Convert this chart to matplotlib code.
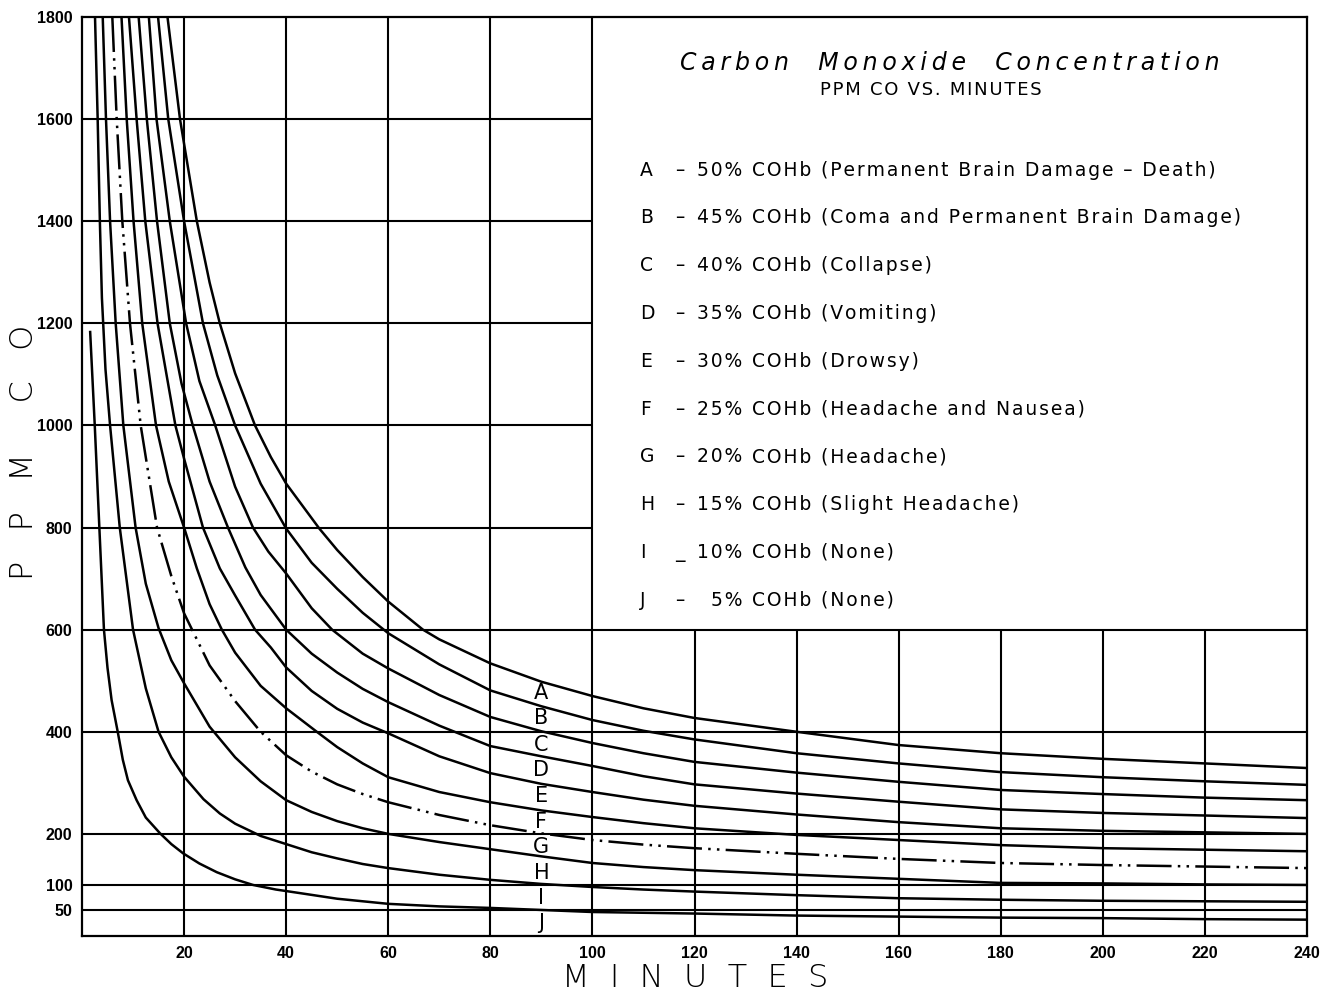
import matplotlib
matplotlib.use("Agg")
import matplotlib.pyplot as plt

# curve readings: (minutes, ppm CO)
curve_a = [(16.75, 1800), (19.2, 1600), (22.5, 1400), (25, 1280), (27, 1200), (30, 1102),
           (33.9, 1000), (37, 938), (40, 886), (46.5, 798), (50, 756), (55, 703), (60, 655),
           (66.8, 600), (70, 581), (80, 534), (90, 498), (100, 470), (110, 446), (120, 427),
           (140, 400), (160, 374), (180, 358), (200, 347), (220, 338), (240, 329)]
curve_b = [(14.9, 1800), (16.9, 1600), (20.0, 1400), (23.7, 1200), (26.5, 1098), (30, 1000),
           (35, 886), (40, 798), (45, 731), (50, 680), (55, 633), (60, 593), (70, 532),
           (80, 481), (90, 450), (100, 423), (110, 402), (120, 385), (140, 358), (160, 338),
           (180, 321), (200, 311), (220, 303), (240, 296)]
curve_c = [(13.1, 1800), (14.6, 1600), (17.2, 1400), (20.4, 1200), (23, 1087), (26.1, 1000),
           (30, 880), (33.5, 800), (36.5, 753), (40, 710), (45, 642), (49, 600), (55, 553),
           (60, 524), (70, 472), (80, 429), (90, 401), (100, 378), (110, 358), (120, 341),
           (140, 320), (160, 302), (180, 286), (200, 278), (220, 271), (240, 266)]
curve_d = [(11.1, 1800), (12.7, 1600), (14.7, 1400), (17.2, 1200), (19.5, 1082), (21.7, 1000),
           (25, 890), (28.6, 800), (32, 722), (35, 668), (40, 600), (45, 553), (50, 516),
           (55, 484), (60, 458), (70, 412), (80, 372), (90, 352), (100, 333), (110, 313),
           (120, 297), (140, 279), (160, 263), (180, 248), (200, 241), (220, 236), (240, 231)]
curve_e = [(9.2, 1800), (10.7, 1600), (12.4, 1400), (14.8, 1200), (18.3, 1000), (20, 935),
           (23.7, 800), (27, 720), (30, 667), (33.9, 600), (37, 565), (40, 526), (45, 480),
           (50, 445), (55, 418), (60, 397), (70, 352), (80, 319), (90, 298), (100, 282),
           (110, 267), (120, 255), (140, 238), (160, 223), (180, 211), (200, 206), (220, 203),
           (240, 200)]
curve_f = [(7.74, 1800), (8.76, 1600), (10.1, 1400), (11.8, 1200), (14.5, 1000), (17, 890),
           (20, 800), (22.5, 720), (25, 650), (27.4, 600), (30, 555), (35, 490), (40, 446),
           (46, 400), (50, 370), (55, 338), (60, 311), (70, 282), (80, 262), (90, 246),
           (100, 233), (110, 221), (120, 211), (140, 198), (160, 188), (180, 178), (200, 172),
           (220, 169), (240, 166)]
curve_g = [(5.94, 1800), (6.8, 1600), (7.9, 1400), (9.4, 1200), (11.5, 1000), (14.7, 800),
           (17.5, 705), (20, 632), (25, 530), (30, 460), (35, 400), (40, 354), (45, 322),
           (50, 297), (55, 278), (60, 262), (70, 237), (80, 217), (90, 201), (100, 188),
           (110, 179), (120, 172), (140, 161), (160, 151), (180, 143), (200, 139), (220, 136),
           (240, 133)]
curve_h = [(4.06, 1800), (4.7, 1600), (5.5, 1400), (6.6, 1200), (8.1, 1000), (10.5, 800),
           (12.5, 690), (15, 603), (17.5, 540), (20, 495), (25, 410), (30, 350), (35, 303),
           (40, 266), (45, 243), (50, 225), (55, 211), (60, 200), (70, 184), (80, 170),
           (90, 156), (100, 143), (110, 135), (120, 129), (140, 120), (160, 112), (180, 104),
           (200, 103), (220, 101), (240, 100)]
curve_i = [(2.55, 1800), (3.07, 1600), (3.5, 1400), (3.9, 1250), (4.6, 1110), (5.5, 1000),
           (7.4, 800), (10, 600), (12.5, 485), (15, 400), (17.5, 350), (20, 312), (23.8, 268),
           (27, 240), (30, 220), (35, 196), (40, 180), (45, 164), (50, 152), (55, 141),
           (60, 133), (70, 120), (80, 110), (90, 102), (100, 96), (110, 91), (120, 87),
           (140, 80), (160, 74), (180, 71), (200, 69), (220, 68), (240, 67)]
curve_j = [(1.6, 1183), (2.5, 1000), (3.4, 800), (4.3, 600), (5.0, 525), (5.8, 462),
           (7.0, 400), (8.0, 345), (9.0, 305), (10.7, 266), (12.5, 232), (15.3, 201),
           (17.5, 180), (19.8, 162), (23, 142), (26.4, 125), (30, 111), (33.5, 100), (38, 91),
           (42.7, 84), (50, 73), (60, 63), (70, 58), (80, 55), (90, 51), (100, 47), (120, 44),
           (140, 40), (160, 38), (180, 36), (200, 35), (220, 33), (240, 32)]

curves = [curve_a, curve_b, curve_c, curve_d, curve_e, curve_f, curve_g, curve_h, curve_i, curve_j]
letters = ['A', 'B', 'C', 'D', 'E', 'F', 'G', 'H', 'I', 'J']
letter_ppm = [475, 427, 374, 325, 274, 223, 174, 123, 74, 25]

legend_pct = ['50%', '45%', '40%', '35%', '30%', '25%', '20%', '15%', '10%', '5%']
legend_desc = ['(Permanent Brain Damage \u2013 Death)', '(Coma and Permanent Brain Damage)',
               '(Collapse)', '(Vomiting)', '(Drowsy)', '(Headache and Nausea)', '(Headache)',
               '(Slight Headache)', '(None)', '(None)']
legend_sep = ['\u2013'] * 8 + ['_', '\u2013']

x_ticks = [20, 40, 60, 80, 100, 120, 140, 160, 180, 200, 220, 240]
y_ticks = [50, 100, 200, 400, 600, 800, 1000, 1200, 1400, 1600, 1800]
vgrid_full = [20, 40, 60, 80, 100]
vgrid_low = [120, 140, 160, 180, 200, 220]
hgrid_full = [50, 100, 200, 400, 600]
hgrid_left = [800, 1000, 1200, 1400, 1600]


def spaced(s, sep='\u200a'):
    return sep.join(s)


fig = plt.figure(figsize=(13.32, 9.92), dpi=100)
ax = fig.add_axes([82 / 1332, 56 / 992, 1225 / 1332, 919 / 992])
ax.set_xlim(0, 240)
ax.set_ylim(0, 1800)

glw = 1.5
ax.vlines(vgrid_full, 0, 1800, color='black', lw=glw, zorder=1)
ax.vlines(vgrid_low, 0, 600, color='black', lw=glw, zorder=1)
ax.hlines(hgrid_full, 0, 240, color='black', lw=glw, zorder=1)
ax.hlines(hgrid_left, 0, 100, color='black', lw=glw, zorder=1)

for letter, pts in zip(letters, curves):
    xs = [p[0] for p in pts]
    ys = [p[1] for p in pts]
    if letter == 'G':
        ax.plot(xs, ys, color='black', lw=1.8, ls=(0, (14, 2.5, 1, 2.5, 1, 2.5)), zorder=2)
    else:
        ax.plot(xs, ys, color='black', lw=1.8, zorder=2, solid_joinstyle='round')

for letter, yv in zip(letters, letter_ppm):
    ax.text(90, yv, letter, ha='center', va='center', fontsize=15, color='black', zorder=3)

for s in ax.spines.values():
    s.set_linewidth(1.6)

ax.set_xticks(x_ticks)
ax.set_yticks(y_ticks)
ax.tick_params(length=0, pad=7)
for lab in ax.get_xticklabels() + ax.get_yticklabels():
    lab.set_fontfamily('Liberation Sans')
    lab.set_fontweight('bold')
    lab.set_fontsize(11.5)

fig.text(24 / 1332, 1 - 452 / 992, 'P   P   M     C   O', rotation=90, ha='center', va='center',
         fontsize=23, fontweight='light')
fig.text(695 / 1332, 1 - 978 / 992, 'M  I  N  U  T  E  S', ha='center', va='center',
         fontsize=23, fontweight='light')

# title block inside the upper-right box
ax.text(0.7086, 0.950, spaced('Carbon  Monoxide  Concentration', '\u2009'), transform=ax.transAxes,
        ha='center', va='center', fontsize=17, style='italic')
ax.text(0.693, 0.9206, spaced('PPM CO VS. MINUTES'), transform=ax.transAxes,
        ha='center', va='center', fontsize=13)

y0 = (936 - 170) / 919
dy = 47.8 / 919
fs = 13.5
for k in range(10):
    yy = y0 - k * dy
    ax.text(0.4555, yy, letters[k], transform=ax.transAxes, ha='left', va='center', fontsize=fs)
    ax.text(0.488, yy, legend_sep[k], transform=ax.transAxes, ha='center', va='center', fontsize=fs)
    ax.text(0.539, yy, spaced(legend_pct[k]), transform=ax.transAxes, ha='right', va='center',
            fontsize=fs)
    ax.text(0.547, yy, spaced('COHb ' + legend_desc[k]), transform=ax.transAxes, ha='left',
            va='center', fontsize=fs)

fig.savefig('out.png', dpi=100, facecolor='white')
